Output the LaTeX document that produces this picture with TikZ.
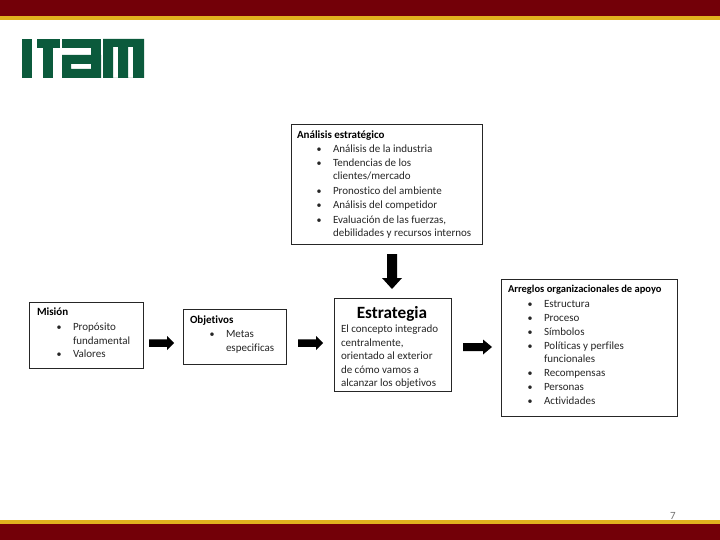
\documentclass[tikz,border=0pt]{standalone}
\usepackage{fontspec}
\setmainfont{Carlito}[RawFeature={-liga}]
\usetikzlibrary{arrows.meta}
\definecolor{itamred}{HTML}{730008}
\definecolor{itamgold}{HTML}{E0B21E}
\definecolor{itamgreen}{HTML}{0B5A3C}
\definecolor{bodytxt}{HTML}{262626}
\newcommand{\txtnode}[5][]{\node[lbl,#1] (#2) at (#3,#4) {#5};}
\newcommand{\itemln}[5]{\node[lbl,font=\fontsize{10}{12}\selectfont] (#1b) at (#2+1.5,#4) {•};\node[lbl] (#1) at (#3,#4) {#5};}
\tikzset{
  lbl/.style={anchor=base west,inner sep=0pt,outer sep=0pt,text=bodytxt,font=\fontsize{11}{13}\selectfont},
  ttl/.style={text=black,font=\fontsize{11}{13}\bfseries\selectfont},
  boxnode/.style={draw=black!85,line width=0.9pt,fill=white,anchor=north west,inner sep=0pt,outer sep=0pt},
}
\newcommand{\hblock}[6]{\fill[black] (#1,#3-#4/2) -- (#2-#6,#3-#4/2) -- (#2-#6,#3-#5/2) -- (#2,#3) -- (#2-#6,#3+#5/2) -- (#2-#6,#3+#4/2) -- (#1,#3+#4/2) -- cycle;}
\begin{document}
\begin{tikzpicture}[x=1pt,y=-1pt]
\useasboundingbox (0,0) rectangle (720,540);
\fill[white] (0,0) rectangle (720,540);
% bands
\fill[itamred] (0,0) rectangle (720,16);
\fill[itamgold] (0,16) rectangle (720,20);
\fill[itamgold] (0,520) rectangle (720,524);
\fill[itamred] (0,524) rectangle (720,540);
% logo
\fill[itamgreen] (22,39) rectangle (32,78);
\fill[itamgreen] (37,39) rectangle (60,48);
\fill[itamgreen] (43,39) rectangle (53,78);
\fill[itamgreen] (62,39) rectangle (101,48);
\fill[itamgreen] (91,39) rectangle (101,78);
\fill[itamgreen,even odd rule] (62,55) rectangle (101,78) (71,64) rectangle (91,69);
\fill[itamgreen,even odd rule] (103,39) rectangle (144,78) (113,47) rectangle (118,78) (128,47) rectangle (133,78);
% boxes
\node[boxnode,minimum width=191pt,minimum height=120pt] (analisis) at (291,124) {};
\node[boxnode,minimum width=114pt,minimum height=66pt] (mision) at (29,302) {};
\node[boxnode,minimum width=103pt,minimum height=55pt] (objetivos) at (183,309) {};
\node[boxnode,minimum width=117pt,minimum height=93pt] (estrategia) at (334,298) {};
\node[boxnode,minimum width=176pt,minimum height=137pt] (arreglos) at (501,279) {};
% arrows between boxes
\hblock{149}{174}{343}{7.5}{14}{7}
\hblock{298}{323}{343}{7.5}{14}{7}
\hblock{463}{492}{347}{8}{15}{9}
\fill[black] (387,254) -- (397,254) -- (397,278) -- (402,278) -- (392,289) -- (382,278) -- (387,278) -- cycle;
% analisis
\txtnode[ttl]{a0}{297}{139}{Análisis estratégico}
\itemln{a1}{315}{333}{153}{Análisis de la industria}
\itemln{a2}{315}{333}{167}{Tendencias de los}
\txtnode{a3}{333}{180}{clientes/mercado}
\itemln{a4}{315}{333}{195}{Pronostico del ambiente}
\itemln{a5}{315}{333}{208}{Análisis del competidor}
\itemln{a6}{315}{333}{223}{Evaluación de las fuerzas,}
\txtnode{a7}{333}{236.5}{debilidades y recursos internos}
% mision
\txtnode[ttl]{m0}{37}{315}{Misión}
\itemln{m1}{55}{73}{330}{Propósito}
\txtnode{m2}{73}{344}{fundamental}
\itemln{m3}{55}{73}{357}{Valores}
% objetivos
\txtnode[ttl]{o0}{190}{323}{Objetivos}
\itemln{o1}{208}{226}{337}{Metas}
\txtnode{o2}{226}{351}{especificas}
% estrategia
\node[lbl,anchor=base,text=black,font=\fontsize{17.2}{20}\bfseries\selectfont] (e0) at (392,318) {Estrategia};
\txtnode{e1}{341}{332}{El concepto integrado}
\txtnode{e2}{341}{346}{centralmente,}
\txtnode{e3}{341}{359}{orientado al exterior}
\txtnode{e4}{341}{373}{de cómo vamos a}
\begin{scope}
\clip (336,375) rectangle (449,387);
\txtnode{e5}{341}{386}{alcanzar los objetivos}
\end{scope}
% arreglos
\node[lbl,text=black,font=\fontsize{10.5}{12}\bfseries\selectfont] (r0) at (508,292) {Arreglos organizacionales de apoyo};
\itemln{r1}{526}{544}{307}{Estructura}
\itemln{r2}{526}{544}{321}{Proceso}
\itemln{r3}{526}{544}{335}{Símbolos}
\itemln{r4}{526}{544}{349}{Políticas y perfiles}
\txtnode{r5}{544}{362}{funcionales}
\itemln{r6}{526}{544}{376}{Recompensas}
\itemln{r7}{526}{544}{390}{Personas}
\itemln{r8}{526}{544}{404}{Actividades}
% page number
\node[lbl,text=black!55,font=\fontsize{11}{13}\selectfont] (pg) at (670,519) {7};
\end{tikzpicture}
\end{document}
